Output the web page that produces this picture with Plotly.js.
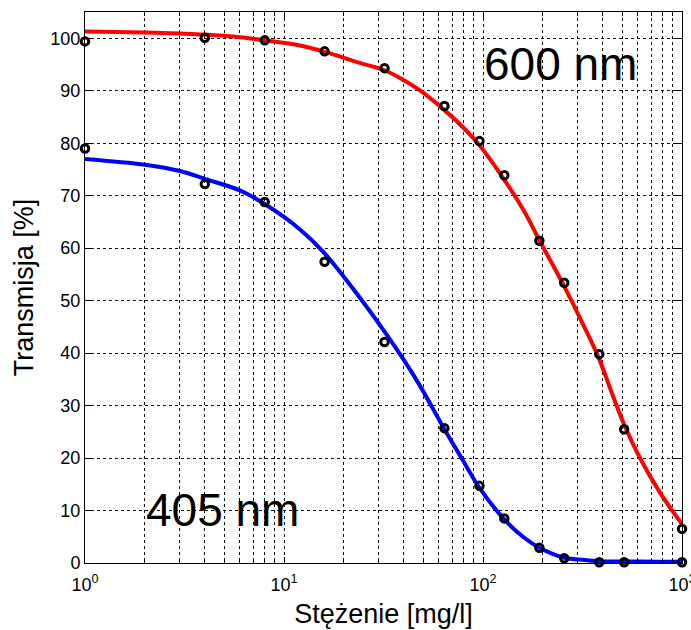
<!DOCTYPE html>
<html>
<head>
<meta charset="utf-8">
<script src="https://cdn.plot.ly/plotly-3.0.1.min.js"></script>
<style>
  html, body { margin: 0; padding: 0; background: #fff; }
  #chart { width: 691px; height: 630px; }
</style>
</head>
<body>
<div id="chart"></div>
<script>
// Measured concentrations [mg/l] and transmission [%] at two wavelengths
const conc = [1, 4, 8, 16, 32, 64, 96, 128, 192, 256, 384, 512, 1000];
const trans600 = [99.4, 100.1, 99.6, 97.5, 94.3, 87.1, 80.4, 73.9, 61.4, 53.4, 39.8, 25.5, 6.5];
const trans405 = [79.0, 72.2, 68.8, 57.4, 42.1, 25.7, 14.7, 8.5, 2.9, 0.9, 0.15, 0.15, 0.15];

// Fitted curves, sampled along the concentration axis
const fitConc = [1, 2, 3, 4, 6, 8, 12, 16, 24, 32, 40, 48, 64, 80, 96, 128, 160, 192, 256, 320, 384, 448, 512, 615, 775, 1000];
const fit600 = [101.3, 101.1, 100.9, 100.7, 100.2, 99.6, 98.6, 97.4, 95.3, 93.9, 92.0, 90.1, 86.3, 82.9, 79.6, 73.0, 67.2, 61.5, 52.7, 45.3, 38.8, 32.0, 26.4, 20.0, 13.4, 7.4];
const fit405 = [77.0, 75.9, 74.7, 73.2, 71.0, 68.4, 63.6, 59.0, 50.6, 44.1, 38.7, 33.9, 25.5, 19.3, 14.3, 8.3, 4.9, 2.9, 1.0, 0.6, 0.35, 0.3, 0.28, 0.27, 0.26, 0.25];

// Axis ticks
const xTickVals = [1, 10, 100, 1000];
const xTickText = ['10<sup>0</sup>', '10<sup>1</sup>', '10<sup>2</sup>', '10<sup>3</sup>'];
const xMinorVals = [2, 3, 4, 5, 6, 7, 8, 9, 20, 30, 40, 50, 60, 70, 80, 90, 200, 300, 400, 500, 600, 700, 800, 900];

const FONT = 'Arial, "Liberation Sans", sans-serif';
const GRID = '#111';

const traces = [
  {
    x: fitConc, y: fit600, type: 'scatter', mode: 'lines',
    line: { color: '#ff0000', width: 4, shape: 'spline', smoothing: 1 },
    hoverinfo: 'skip'
  },
  {
    x: fitConc, y: fit405, type: 'scatter', mode: 'lines',
    line: { color: '#0000ff', width: 4, shape: 'spline', smoothing: 1 },
    hoverinfo: 'skip'
  },
  {
    x: conc, y: trans600, type: 'scatter', mode: 'markers', cliponaxis: false,
    marker: { symbol: 'circle-open', size: 7.5, color: '#000', line: { width: 3, color: '#000' } }
  },
  {
    x: conc, y: trans405, type: 'scatter', mode: 'markers', cliponaxis: false,
    marker: { symbol: 'circle-open', size: 7.5, color: '#000', line: { width: 3, color: '#000' } }
  }
];

const layout = {
  width: 691, height: 630,
  margin: { l: 85, r: 9, t: 12, b: 67 },
  paper_bgcolor: '#fff', plot_bgcolor: '#fff',
  showlegend: false,
  font: { family: FONT, color: '#000', size: 18 },
  xaxis: {
    type: 'log', range: [0, 3],
    tickmode: 'array', tickvals: xTickVals, ticktext: xTickText,
    tickfont: { family: FONT, size: 18, color: '#000' },
    ticklabeloverflow: 'allow', ticklabelstandoff: 5,
    ticks: 'inside', ticklen: 6, tickcolor: '#000', tickwidth: 1,
    showline: true, linecolor: '#000', linewidth: 1, mirror: 'ticks',
    showgrid: true, gridcolor: GRID, gridwidth: 1, griddash: '3px,3px',
    minor: {
      tickmode: 'array', tickvals: xMinorVals,
      ticks: 'inside', ticklen: 4, tickcolor: '#000',
      showgrid: true, gridcolor: GRID, gridwidth: 1, griddash: '3px,3px'
    },
    zeroline: false,
    title: { text: 'Stężenie [mg/l]', font: { family: FONT, size: 27, color: '#000' }, standoff: 10 }
  },
  yaxis: {
    range: [0, 105], tickmode: 'linear', tick0: 0, dtick: 10,
    tickfont: { family: FONT, size: 18, color: '#000' },
    ticks: 'inside', ticklen: 6, tickcolor: '#000', tickwidth: 1,
    showline: true, linecolor: '#000', linewidth: 1, mirror: 'ticks',
    showgrid: true, gridcolor: GRID, gridwidth: 1, griddash: '3px,3px',
    zeroline: false,
    title: { text: 'Transmisja [%]', font: { family: FONT, size: 27, color: '#000' }, standoff: 8 }
  },
  annotations: [
    { text: '600 nm', xref: 'paper', yref: 'paper', x: 0.797, y: 0.906,
      xanchor: 'center', yanchor: 'middle', showarrow: false,
      font: { family: FONT, size: 46, color: '#000' } },
    { text: '405 nm', xref: 'paper', yref: 'paper', x: 0.2295, y: 0.096,
      xanchor: 'center', yanchor: 'middle', showarrow: false,
      font: { family: FONT, size: 46, color: '#000' } }
  ]
};

Plotly.newPlot('chart', traces, layout, { staticPlot: true, displayModeBar: false });
</script>
</body>
</html>
